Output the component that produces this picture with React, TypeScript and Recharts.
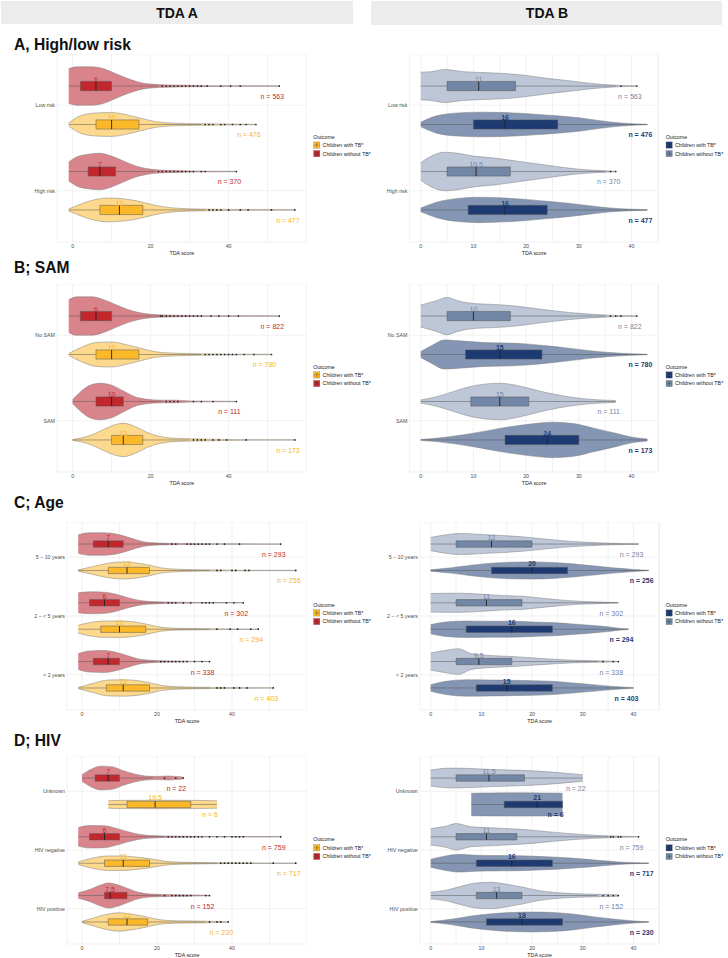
import React from 'react';
import { ComposedChart, Area, Line, Scatter, XAxis, YAxis, CartesianGrid } from 'recharts';

// --- Types ---
type Row = {
  cat: string;
  tb: boolean; // true = children with TB*
  n: number;
  q1: number;
  med: number;
  q3: number;
  lo: number;
  hi: number;
  out: number[];
  vio: [number, number][]; // [score, relative half-width of the density]
};

const row = (
  cat: string, tb: boolean, n: number,
  [q1, med, q3, lo, hi]: number[], out: number[], vio: [number, number][]
): Row => ({ cat, tb, n, q1, med, q3, lo, hi, out, vio });

// --- Categories (top to bottom) ---
const RISK_CATS = ['Low risk', 'High risk'];
const SAM_CATS = ['No SAM', 'SAM'];
const AGE_CATS = ['5 – 10 years', '2 – < 5 years', '< 2 years'];
const HIV_CATS = ['Unknown', 'HIV negative', 'HIV positive'];

// --- Axis ticks ---
const A_TICKS = [0, 10, 20, 30, 40, 50];
const A_LABELS = [0, 20, 40];
const B_TICKS = [0, 5, 10, 15, 20, 25, 30, 35, 40, 45];
const B_LABELS = [0, 10, 20, 30, 40];

// --- TDA A ---
const A_LEFT: Row[] = [
  row('Low risk', false, 563, [2, 6, 10, -1, 22], [23, 24, 25, 26, 27, 28, 29, 30, 31, 32, 33, 34.5, 38, 40.5, 43, 53],
    [[-1, .9], [1, 1], [5, 1], [8, .9], [11, .65], [14, .4], [17, .2], [20, .1], [24, .06], [30, .04], [35, .02], [53, .01]]),
  row('Low risk', true, 476, [6, 10, 17, -1, 33], [34, 35, 36, 38, 39, 41, 43, 44.5, 47],
    [[-1, .08], [2, .45], [6, .6], [10, .62], [14, .5], [17, .35], [21.5, .14], [26, .07], [32.5, .04], [40, .02], [47, .01]]),
  row('High risk', false, 370, [4, 7, 11, -1, 21], [22, 23, 24, 25, 26, 27, 28, 29, 30, 31, 33, 34, 42],
    [[-1, .5], [1, .75], [4, .9], [7, .95], [10, .8], [13, .55], [16, .3], [19, .15], [22, .08], [26, .05], [30, .03], [42, .01]]),
  row('High risk', true, 477, [7, 12, 18, -1, 34], [35, 36, 37, 38, 40, 43, 45, 51, 57],
    [[-1, .05], [2, .3], [5, .5], [9, .62], [13, .58], [17, .45], [21, .25], [25, .12], [30, .06], [35, .04], [45, .02], [57, .01]]),
];

const B_LEFT: Row[] = [
  row('No SAM', false, 822, [2, 6, 10, -1, 22], [22.5, 23, 24, 25, 26, 27, 28, 29, 30, 31, 32, 33, 35.5, 37.5, 40, 42.5, 53],
    [[-1, .85], [1, 1], [5, 1], [8, .85], [11, .6], [14, .35], [17, .18], [20, .09], [24, .05], [30, .03], [40, .015], [53, .01]]),
  row('No SAM', true, 780, [6, 10, 17, -1, 33], [34, 35, 36, 37, 38, 39, 40, 41, 42, 44, 46.5, 51],
    [[-1, .05], [2, .35], [6, .62], [10, .65], [14, .5], [17, .35], [21, .15], [25, .08], [30, .05], [35, .03], [51, .01]]),
  row('SAM', false, 111, [6, 10, 13, 0, 23], [24, 25, 26, 27, 31, 33, 36, 42],
    [[0, .1], [2, .5], [4, .8], [7, .95], [10, .85], [13, .55], [16, .25], [19, .12], [23, .07], [26, .07], [30, .03], [42, .01]]),
  row('SAM', true, 173, [10, 13, 18, 0, 30], [31, 32, 33, 34, 36, 37.5, 39.5, 44.5, 57],
    [[0, .02], [4, .2], [8, .55], [11, .8], [13, .87], [16, .7], [19, .4], [22, .2], [25, .1], [30, .06], [33, .05], [38, .03], [45, .01], [57, .005]]),
];

const C_LEFT: Row[] = [
  row('5 – 10 years', false, 293, [3, 7, 11, -1, 23], [24, 25, 28, 29, 30, 31, 32, 33, 34, 36, 38, 42, 53],
    [[-1, .7], [2, .85], [6, .85], [10, .7], [13, .45], [16, .2], [20, .08], [24, .05], [30, .03], [40, .015], [53, .01]]),
  row('5 – 10 years', true, 256, [7, 12, 18, -1, 34], [36, 37, 40, 41, 43.5, 44.5, 57],
    [[-1, .05], [3, .3], [7, .55], [11, .65], [15, .55], [18, .4], [21, .2], [25, .1], [30, .06], [36, .04], [45, .02], [57, .01]]),
  row('2 – < 5 years', false, 302, [2, 6, 10, -1, 22], [23, 24, 25, 27, 29, 32, 33, 34, 35, 38.5, 40.5, 43],
    [[-1, .75], [2, .83], [6, .8], [9, .65], [12, .4], [15, .2], [18, .1], [22, .06], [26, .04], [33, .02], [43, .01]]),
  row('2 – < 5 years', true, 294, [5, 10, 17, -1, 34], [36, 39.5, 41.5, 45, 47],
    [[-1, .3], [2, .5], [6, .62], [10, .62], [14, .55], [17, .4], [21, .15], [25, .07], [30, .05], [36, .03], [47, .01]]),
  row('< 2 years', false, 338, [3, 7, 10, -1, 20], [21, 22, 23, 24, 25, 26, 27, 28, 30, 32, 34],
    [[-1, .6], [2, .8], [6, .83], [9, .7], [12, .45], [15, .2], [18, .1], [21, .06], [25, .04], [30, .02], [34, .01]]),
  row('< 2 years', true, 403, [6.5, 11, 18, -1, 34], [36, 37, 38, 40.5, 42, 44, 51],
    [[-1, .05], [3, .35], [7, .6], [11, .62], [15, .55], [18, .4], [21, .2], [25, .1], [30, .06], [36, .04], [45, .02], [51, .01]]),
];

const D_LEFT: Row[] = [
  row('Unknown', false, 22, [3.5, 7, 10, 0, 19], [22, 25, 27],
    [[0, .25], [2, .6], [5, .9], [8, .85], [11, .55], [14, .3], [17, .15], [20, .12], [23, .15], [25, .12], [27, .08]]),
  row('Unknown', true, 6, [12, 19.5, 29, 7, 36], [],
    [[7, .28], [10, .31], [20, .32], [30, .31], [36, .28]]),
  row('HIV negative', false, 759, [2, 6, 10, -1, 22], [23, 24, 25, 26, 27, 28, 29, 30, 31, 32, 34, 36, 38, 40, 41, 42, 43, 53],
    [[-1, .7], [2, .85], [6, .83], [9, .65], [12, .4], [15, .2], [18, .1], [22, .06], [27, .04], [35, .02], [53, .01]]),
  row('HIV negative', true, 717, [6, 11, 18, -1, 36], [37, 38, 39, 40, 41, 42, 43, 44, 45, 51, 57],
    [[-1, .1], [3, .4], [7, .55], [11, .55], [15, .45], [18, .35], [22, .15], [26, .08], [31, .05], [37, .03], [45, .02], [57, .01]]),
  row('HIV positive', false, 152, [6, 7.5, 12, -1, 21], [22, 24, 25, 26, 27, 28, 29, 33, 34],
    [[-1, .2], [2, .45], [5, .8], [7, .95], [9, .85], [12, .55], [15, .25], [18, .12], [22, .08], [26, .06], [30, .04], [34, .02]]),
  row('HIV positive', true, 230, [7, 12, 17.5, 0, 33], [34, 36, 37, 39],
    [[0, .05], [3, .3], [7, .6], [10, .7], [13, .6], [17, .4], [20, .2], [24, .1], [28, .08], [33, .06], [37, .03], [39, .01]]),
];

// --- TDA B ---
const A_RIGHT: Row[] = [
  row('Low risk', false, 563, [5, 11, 18, 0, 37], [38, 41],
    [[0, .72], [2, .75], [4.5, .86], [8, .75], [12, .7], [16, .65], [20, .55], [24, .4], [28, .28], [32, .15], [36, .06], [38, .03], [41, .01]]),
  row('Low risk', true, 476, [10, 16, 26, 0, 43], [],
    [[0, .12], [3, .45], [7, .6], [11, .64], [16, .62], [21, .55], [26, .45], [30, .35], [34, .2], [38, .08], [41, .03], [43, .01]]),
  row('High risk', false, 370, [5, 10.5, 17, 0, 35], [36, 37],
    [[0, .45], [2, .8], [4.5, 1], [7, .95], [10, .8], [14, .7], [18, .55], [22, .4], [26, .25], [30, .12], [34, .05], [37, .01]]),
  row('High risk', true, 477, [9, 16, 24, 0, 43], [],
    [[0, .1], [3, .4], [7, .6], [11, .66], [16, .62], [20, .55], [24, .45], [28, .35], [32, .22], [36, .1], [40, .04], [43, .01]]),
];

const B_RIGHT: Row[] = [
  row('No SAM', false, 822, [5, 10, 17, 0, 35], [36, 37, 38, 41],
    [[0, .57], [3, .8], [5, .97], [7, .8], [10, .65], [14, .6], [18, .52], [22, .38], [26, .25], [30, .14], [34, .07], [37, .03], [41, .01]]),
  row('No SAM', true, 780, [8.5, 15, 23, 0, 43], [],
    [[0, .15], [2, .45], [4.5, .76], [8, .7], [12, .62], [16, .6], [20, .55], [24, .45], [28, .33], [32, .2], [36, .1], [40, .04], [43, .01]]),
  row('SAM', false, 111, [9.5, 15, 20.5, 0, 37], [],
    [[0, .08], [3, .25], [6, .5], [9, .75], [12, .9], [15, .95], [18, .85], [21, .65], [24, .45], [28, .25], [32, .12], [35, .07], [37, .05]]),
  row('SAM', true, 173, [16, 24, 30, 0, 43], [],
    [[0, .02], [5, .15], [10, .35], [15, .6], [20, .8], [25, .92], [29, .85], [33, .6], [37, .35], [40, .15], [43, .05]]),
];

const C_RIGHT: Row[] = [
  row('5 – 10 years', false, 293, [5, 12, 20, 0, 41], [],
    [[0, .5], [3, .7], [6, .8], [10, .72], [14, .65], [18, .55], [22, .4], [26, .25], [30, .15], [34, .08], [38, .03], [41, .01]]),
  row('5 – 10 years', true, 256, [12, 20, 27, 0, 43], [],
    [[0, .05], [4, .2], [8, .4], [12, .55], [16, .63], [20, .65], [24, .6], [28, .5], [32, .35], [36, .2], [40, .08], [43, .01]]),
  row('2 – < 5 years', false, 302, [5, 11, 18, 0, 37], [],
    [[0, .7], [3, .72], [6, .72], [10, .65], [14, .55], [18, .5], [22, .35], [26, .2], [30, .1], [34, .05], [37, .01]]),
  row('2 – < 5 years', true, 294, [7, 16, 24, 0, 39], [],
    [[0, .35], [3, .55], [7, .62], [12, .6], [16, .6], [20, .55], [24, .5], [28, .4], [32, .28], [35, .18], [37, .08], [39, .02]]),
  row('< 2 years', false, 338, [5, 9.5, 16, 0, 33], [34, 36, 37],
    [[0, .65], [3, .85], [5.5, .97], [8, .6], [12, .45], [16, .38], [20, .28], [24, .18], [28, .1], [32, .06], [35, .04], [37, .01]]),
  row('< 2 years', true, 403, [9, 15, 24, 0, 40], [],
    [[0, .25], [3, .5], [7, .62], [12, .6], [16, .58], [20, .55], [24, .5], [28, .38], [32, .25], [36, .12], [39, .04], [40, .01]]),
];

const D_RIGHT: Row[] = [
  row('Unknown', false, 22, [5, 11.5, 18.5, 0, 30], [],
    [[0, .6], [4, .75], [8, .72], [12, .65], [16, .6], [20, .55], [24, .45], [27, .35], [30, .25]]),
  row('Unknown', true, 6, [14.5, 21, 26, 8, 26], [],
    [[8, .85], [12, .87], [18, .88], [22, .87], [26, .85]]),
  row('HIV negative', false, 759, [5, 11, 17, 0, 35], [35.5, 36, 37, 37.5, 41],
    [[0, .62], [3, .8], [5, 1], [8, .75], [12, .68], [16, .6], [20, .5], [24, .35], [28, .22], [32, .12], [36, .06], [41, .01]]),
  row('HIV negative', true, 717, [9, 16, 24, 0, 43], [],
    [[0, .3], [3, .55], [5.5, .67], [9, .6], [13, .58], [17, .57], [21, .52], [25, .45], [29, .35], [33, .22], [37, .1], [40, .04], [43, .01]]),
  row('HIV positive', false, 152, [9, 13, 18, 0, 33], [34, 35, 36, 37],
    [[0, .25], [3, .4], [6, .7], [9, .95], [12, 1], [15, .85], [18, .65], [21, .4], [24, .25], [28, .15], [32, .1], [35, .08], [37, .05]]),
  row('HIV positive', true, 230, [11, 18, 26, 0, 43], [],
    [[0, .03], [4, .2], [8, .45], [12, .62], [16, .72], [20, .75], [24, .72], [28, .6], [32, .4], [36, .22], [40, .08], [43, .01]]),
];

// --- Styling ---
const FONT = '"Liberation Sans", Arial, sans-serif';
const DODGE = 0.225;
const BOX_HALF = 0.054;
const PLOT_H = 188;

type Swatch = { violin: string; box: string; text: string; bold: boolean };
const PALETTE: Record<'a' | 'b', { with: Swatch; without: Swatch }> = {
  a: {
    with: { violin: '#fdd98e', box: '#fbb829', text: '#f8b422', bold: false },
    without: { violin: '#d9848b', box: '#c1272d', text: '#c1272d', bold: false },
  },
  b: {
    with: { violin: '#8496b3', box: '#1e3a72', text: '#1e3a72', bold: true },
    without: { violin: '#bdc7d7', box: '#7286a6', text: '#6f84a4', bold: false },
  },
};

type PanelProps = {
  cats: string[];
  rows: Row[];
  side: 'a' | 'b';
  top: number;
  plotLeft: number;
  plotW: number;
  chartLeft: number;
};

const MedianText = (p: any) => (
  <text x={p.cx} y={p.cy - 4} textAnchor="middle" fontSize={7} fill={p.payload.color}
    fontWeight={p.payload.bold ? 700 : 400}>{p.payload.label}</text>
);

const CountText = (p: any) => (
  <text x={p.cx - 7} y={p.cy + 13} textAnchor="middle" fontSize={7} fill={p.payload.color}
    fontWeight={p.payload.bold ? 700 : 400}>{p.payload.label}</text>
);

const Dot = (p: any) => <circle cx={p.cx} cy={p.cy} r={0.85} fill="#1a1a1a" />;

const ViolinPanel: React.FC<PanelProps> = ({ cats, rows, side, top, plotLeft, plotW, chartLeft }) => {
  const yW = plotLeft - chartLeft;
  const domain = side === 'a' ? [-4, 60] : [-2.15, 45.15];
  const ticks = side === 'a' ? A_TICKS : B_TICKS;
  const shown = side === 'a' ? A_LABELS : B_LABELS;
  const catValue = (c: string) => cats.length - cats.indexOf(c);
  const yTicks = cats.map((_, i) => i + 1);

  const CatTick = (p: any) => (
    <text x={p.x} y={p.y} dy={1.9} textAnchor="end" fontSize={5.3} fill="#4d4d4d">
      {cats[cats.length - p.payload.value]}
    </text>
  );

  const items: React.ReactNode[] = [];
  const outliers: { x: number; y: number }[] = [];
  const medLabels: any[] = [];
  const nLabels: any[] = [];

  rows.forEach((r, i) => {
    const y = catValue(r.cat) + (r.tb ? -DODGE : DODGE);
    const sw = r.tb ? PALETTE[side].with : PALETTE[side].without;
    items.push(
      <Area key={`v${i}`} data={r.vio.map(([x, w]) => ({ x, band: [y - w * DODGE, y + w * DODGE] }))}
        dataKey="band" type="monotone" fill={sw.violin} fillOpacity={1} stroke="#7d7d7d" strokeWidth={0.5}
        dot={false} activeDot={false} isAnimationActive={false} />,
      <Area key={`b${i}`} data={[r.q1, r.q3].map((x) => ({ x, band: [y - BOX_HALF, y + BOX_HALF] }))}
        dataKey="band" type="linear" fill={sw.box} fillOpacity={1} stroke="#555" strokeWidth={0.5}
        dot={false} activeDot={false} isAnimationActive={false} />,
    );
    items.push(
      <Line key={`w${i}`} dataKey="y" type="linear" stroke="#555" strokeWidth={0.5} dot={false} activeDot={false}
        isAnimationActive={false}
        data={[{ x: r.lo, y }, { x: r.q1, y }, { x: r.q1, y: null }, { x: r.q3, y }, { x: r.hi, y }]} />,
      <Line key={`s${i}`} dataKey="y" type="linear" stroke="#555" strokeWidth={0.5} dot={false} activeDot={false}
        isAnimationActive={false}
        data={[{ x: r.q1, y: y - BOX_HALF }, { x: r.q1, y: y + BOX_HALF }, { x: r.q1, y: null },
          { x: r.q3, y: y - BOX_HALF }, { x: r.q3, y: y + BOX_HALF }]} />,
      <Line key={`m${i}`} dataKey="y" type="linear" stroke="#222" strokeWidth={0.9} dot={false} activeDot={false}
        isAnimationActive={false}
        data={[{ x: r.med, y: y - BOX_HALF }, { x: r.med, y: y + BOX_HALF }]} />,
    );
    r.out.forEach((x) => outliers.push({ x, y }));
    medLabels.push({ x: r.med, y, label: String(r.med), color: sw.text, bold: sw.bold });
    nLabels.push({ x: r.vio[r.vio.length - 1][0], y, label: `n = ${r.n}`, color: sw.text, bold: sw.bold });
  });

  return (
    <div style={{ position: 'absolute', left: chartLeft, top }}>
      <ComposedChart width={yW + plotW} height={PLOT_H + 14} margin={{ top: 0, right: 0, bottom: 0, left: 0 }}>
        <CartesianGrid stroke="#e8e8e8" strokeWidth={0.6} />
        <XAxis type="number" dataKey="x" domain={domain} ticks={ticks} interval={0} allowDataOverflow
          tickFormatter={(v: number) => (shown.includes(v) ? String(v) : '')}
          axisLine={false} tickLine={false} tickSize={0} tickMargin={2.5} height={14}
          tick={{ fontSize: 5.3, fill: '#4d4d4d' }}
          label={{ value: 'TDA score', position: 'insideBottom', offset: 1, fontSize: 5.3, fill: '#222' }} />
        <YAxis type="number" dataKey="y" domain={[0.4, cats.length + 0.6]} ticks={yTicks} interval={0}
          allowDataOverflow width={yW} axisLine={false} tickLine={false} tickSize={0} tickMargin={2}
          tick={CatTick} />
        {items}
        <Scatter data={outliers} shape={Dot} isAnimationActive={false} />
        <Scatter data={medLabels} shape={MedianText} isAnimationActive={false} />
        <Scatter data={nLabels} shape={CountText} isAnimationActive={false} />
      </ComposedChart>
    </div>
  );
};

const PANELS = [
  { title: 'A, High/low risk', cats: RISK_CATS, a: A_LEFT, b: A_RIGHT, top: 53.6, titleY: 50 },
  { title: 'B; SAM', cats: SAM_CATS, a: B_LEFT, b: B_RIGHT, top: 283.5, titleY: 273 },
  { title: 'C; Age', cats: AGE_CATS, a: C_LEFT, b: C_RIGHT, top: 521.5, titleY: 508 },
  { title: 'D; HIV', cats: HIV_CATS, a: D_LEFT, b: D_RIGHT, top: 756.4, titleY: 746 },
];

const Legend = ({ x, y, side }: { x: number; y: number; side: 'a' | 'b' }) => {
  const pal = PALETTE[side];
  const entries = [
    { label: 'Children with TB*', sw: pal.with },
    { label: 'Children without TB*', sw: pal.without },
  ];
  return (
    <g>
      <text x={x} y={y + 2} fontSize={5.3} fill="#222">Outcome</text>
      {entries.map((e, i) => (
        <g key={e.label}>
          <rect x={x + 0.3} y={y + 5.3 + i * 8.6} width={6.3} height={6.3} fill={e.sw.box} stroke="#777" strokeWidth={0.3} />
          <line x1={x + 0.3} x2={x + 6.6} y1={y + 8.45 + i * 8.6} y2={y + 8.45 + i * 8.6} stroke="#555" strokeWidth={0.3} />
          <line x1={x + 3.45} x2={x + 3.45} y1={y + 6.3 + i * 8.6} y2={y + 10.6 + i * 8.6} stroke="#222" strokeWidth={0.4} />
          <text x={x + 9.3} y={y + 10.3 + i * 8.6} fontSize={5.3} fill="#222">{e.label}</text>
        </g>
      ))}
    </g>
  );
};

export default function App() {
  return (
    <div style={{ position: 'absolute', left: 0, top: 0, width: 728, height: 958, background: '#fff', fontFamily: FONT }}>
      <svg width={728} height={958} style={{ position: 'absolute', left: 0, top: 0 }}>
        <rect x={1} y={1} width={352} height={23} fill="#ececec" />
        <rect x={371} y={1} width={351} height={24} fill="#ececec" />
        <text x={177} y={18.3} textAnchor="middle" fontSize={14} fontWeight={700} fill="#111">TDA A</text>
        <text x={547} y={18.3} textAnchor="middle" fontSize={14} fontWeight={700} fill="#111">TDA B</text>
        {PANELS.map((p) => (
          <g key={p.title}>
            <text x={14} y={p.titleY} fontSize={15.6} fontWeight={700} fill="#111">{p.title}</text>
            <Legend x={313.3} y={p.top + 83} side="a" />
            <Legend x={665.7} y={p.top + 83} side="b" />
          </g>
        ))}
      </svg>
      {PANELS.map((p) => {
        const wide = p.cats.length === 2;
        return (
          <React.Fragment key={p.title}>
            <ViolinPanel cats={p.cats} rows={p.a} side="a" top={p.top}
              chartLeft={0} plotLeft={wide ? 57 : 67} plotW={wide ? 249.6 : 240} />
            <ViolinPanel cats={p.cats} rows={p.b} side="b" top={p.top}
              chartLeft={364} plotLeft={wide ? 409.4 : 419.8} plotW={wide ? 249.3 : 239.8} />
          </React.Fragment>
        );
      })}
    </div>
  );
}
